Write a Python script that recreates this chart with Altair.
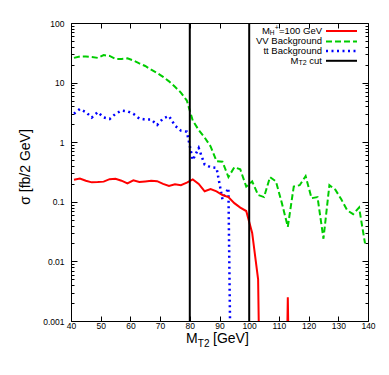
import altair as alt
import pandas as pd

FONT = "Liberation Sans"

# ---- data (2 GeV bins, centres) ----
mt2 = list(range(41, 141, 2))  # 41 .. 139

vv_bg = [26, 27.5, 27.5, 27, 26, 29, 28, 25, 25, 25.5,
         23.5, 21, 19, 16.5, 14.5, 12.5, 10.5, 8.5, 6.8, 5.0,
         2.3, 1.6, 1.2, 0.85, 0.48, 0.47, 0.26, 0.38, 0.35, 0.18,
         0.22, 0.13, 0.12, 0.26, 0.22, 0.095, 0.038, 0.18, 0.19, 0.27,
         0.115, 0.12, 0.024, 0.19, 0.16, 0.11, 0.072, 0.062, 0.08, 0.02]

tt_bg = [3.0, 3.6, 3.2, 2.6, 3.2, 2.6, 2.45, 3.0, 3.4, 3.3,
         3.0, 2.5, 2.4, 2.4, 1.95, 2.5, 2.75, 1.9, 1.56, 1.5,
         0.5, 0.8, 0.42, 0.38, 0.37, 0.11, 0.17, 1e-9]

signal = [0.235, 0.245, 0.225, 0.212, 0.214, 0.218, 0.24, 0.244, 0.226, 0.204,
          0.23, 0.215, 0.22, 0.225, 0.222, 0.2, 0.184, 0.197, 0.19, 0.21,
          0.238, 0.2, 0.15, 0.163, 0.15, 0.13, 0.12, 0.095, 0.08, 0.07,
          0.03, 0.005, 1e-9, 1e-9, 1e-9, 1e-9, 0.0025, 1e-9]

cuts = [80, 100]

x_ticks = list(range(40, 141, 10))
y_ticks = [m * 10.0 ** e for e in range(-3, 2) for m in range(1, 10)] + [100.0]

df_vv = pd.DataFrame({"m": mt2, "v": vv_bg})
df_tt = pd.DataFrame({"m": mt2[:len(tt_bg)], "v": tt_bg})
df_sig = pd.DataFrame({"m": mt2[:len(signal)], "v": signal})
df_cut = pd.DataFrame({"c": cuts})

xs = alt.Scale(domain=[40, 140], nice=False, zero=False)
ys = alt.Scale(type="log", domain=[0.001, 100], nice=False)

is_major = "abs(log(datum.value)/LN10 - round(log(datum.value)/LN10)) < 0.001"

x_axis_bottom = alt.Axis(values=x_ticks, title=None, grid=False, domain=False,
                         tickSize={"expr": "-5"}, tickColor="black",
                         labelPadding=5.5, labelFlush=False, labelOverlap=False,
                         labelFont=FONT, labelFontSize=8.5, labelColor="black")
y_axis_left = alt.Axis(values=y_ticks, title=None, grid=False, domain=False,
                       tickSize={"expr": f"({is_major}) ? -6 : -3"}, tickColor="black",
                       format="~g", labelExpr=f"({is_major}) ? datum.label : ''",
                       labelPadding=13, labelOverlap=False, labelFlush=False,
                       labelFont=FONT, labelFontSize=8.5, labelColor="black")
x_axis_top = alt.Axis(values=x_ticks, orient="top", title=None, grid=False, domain=False,
                      labels=False, tickSize={"expr": "-5"}, tickColor="black")
y_axis_right = alt.Axis(values=y_ticks, orient="right", title=None, grid=False, domain=False,
                        labels=False, tickSize={"expr": f"({is_major}) ? -6 : -3"},
                        tickColor="black")

RED, GREEN, BLUE = "#ff0000", "#00cc00", "#0000ff"
GDASH, BDASH = [6, 3], [2, 3.5]

vv_line = alt.Chart(df_vv).mark_line(color=GREEN, strokeWidth=2, strokeDash=GDASH, clip=True).encode(
    x=alt.X("m:Q", scale=xs, axis=x_axis_top),
    y=alt.Y("v:Q", scale=ys, axis=y_axis_right),
)
tt_line = alt.Chart(df_tt).mark_line(color=BLUE, strokeWidth=2.5, strokeDash=BDASH, clip=True).encode(
    x=alt.X("m:Q", scale=xs, axis=None),
    y=alt.Y("v:Q", scale=ys, axis=None),
)
sig_line = alt.Chart(df_sig).mark_line(color=RED, strokeWidth=2, clip=True).encode(
    x=alt.X("m:Q", scale=xs, axis=x_axis_bottom),
    y=alt.Y("v:Q", scale=ys, axis=y_axis_left),
)
cut_rules = alt.Chart(df_cut).mark_rule(color="black", strokeWidth=2).encode(
    x=alt.X("c:Q", scale=xs, axis=None),
)

# ---- titles (with subscripts) ----
def txt(s, x, y, size, align="left", baseline="alphabetic", angle=0):
    kw = dict(font=FONT, fontSize=size, align=align, baseline=baseline, color="black")
    if angle:
        kw["angle"] = angle
    return alt.Chart().mark_text(**kw).encode(
        x=alt.value(x), y=alt.value(y), text=alt.value(s))

titles = [
    txt("M", 115, 320, 14),
    txt("T2", 126.8, 323.5, 10),
    txt("[GeV]", 142, 320, 14),
    txt("σ [fb/2 GeV]", -41, 144, 14, align="center", angle=270),
]

# ---- legend ----
LF, SF = 9.5, 7
rows = [8.0, 18.4, 28.1, 37.8]
mid = "middle"
legend = [
    txt("M", 190.9, rows[0], LF, baseline=mid),
    txt("H", 198.8, rows[0] + 1.5, 6.5, baseline=mid),
    txt("+", 203.7, rows[0] - 3, SF, baseline=mid),
    txt("=100 GeV", 208.0, rows[0], LF, baseline=mid),
    txt("VV Background", 251, rows[1], LF, align="right", baseline=mid),
    txt("tt Background", 251, rows[2], LF, align="right", baseline=mid),
    txt("M", 219.6, rows[3], LF, baseline=mid),
    txt("T2", 227.5, rows[3] + 2.5, SF, baseline=mid),
    txt("cut", 238.3, rows[3], LF, baseline=mid),
]

def sample(y, color, width, dash=None):
    kw = dict(color=color, strokeWidth=width)
    if dash:
        kw["strokeDash"] = dash
    return alt.Chart().mark_rule(**kw).encode(
        x=alt.value(255), x2=alt.value(286), y=alt.value(y))

samples = [
    sample(rows[0], RED, 2),
    sample(rows[1], GREEN, 2, GDASH),
    sample(rows[2], BLUE, 2.5, BDASH),
    sample(rows[3], "black", 2),
]

chart = alt.layer(vv_line, tt_line, sig_line, cut_rules, *titles, *legend, *samples).resolve_axis(
    x="independent", y="independent"
).properties(
    width=297, height=298,
    autosize=alt.AutoSizeParams(type="none"),
    padding={"left": 63, "top": 15, "right": 13, "bottom": 40},
    background="white",
).configure_view(stroke="black", strokeWidth=1)

chart.save("out.html", embed_options={"renderer": "svg", "actions": False})
